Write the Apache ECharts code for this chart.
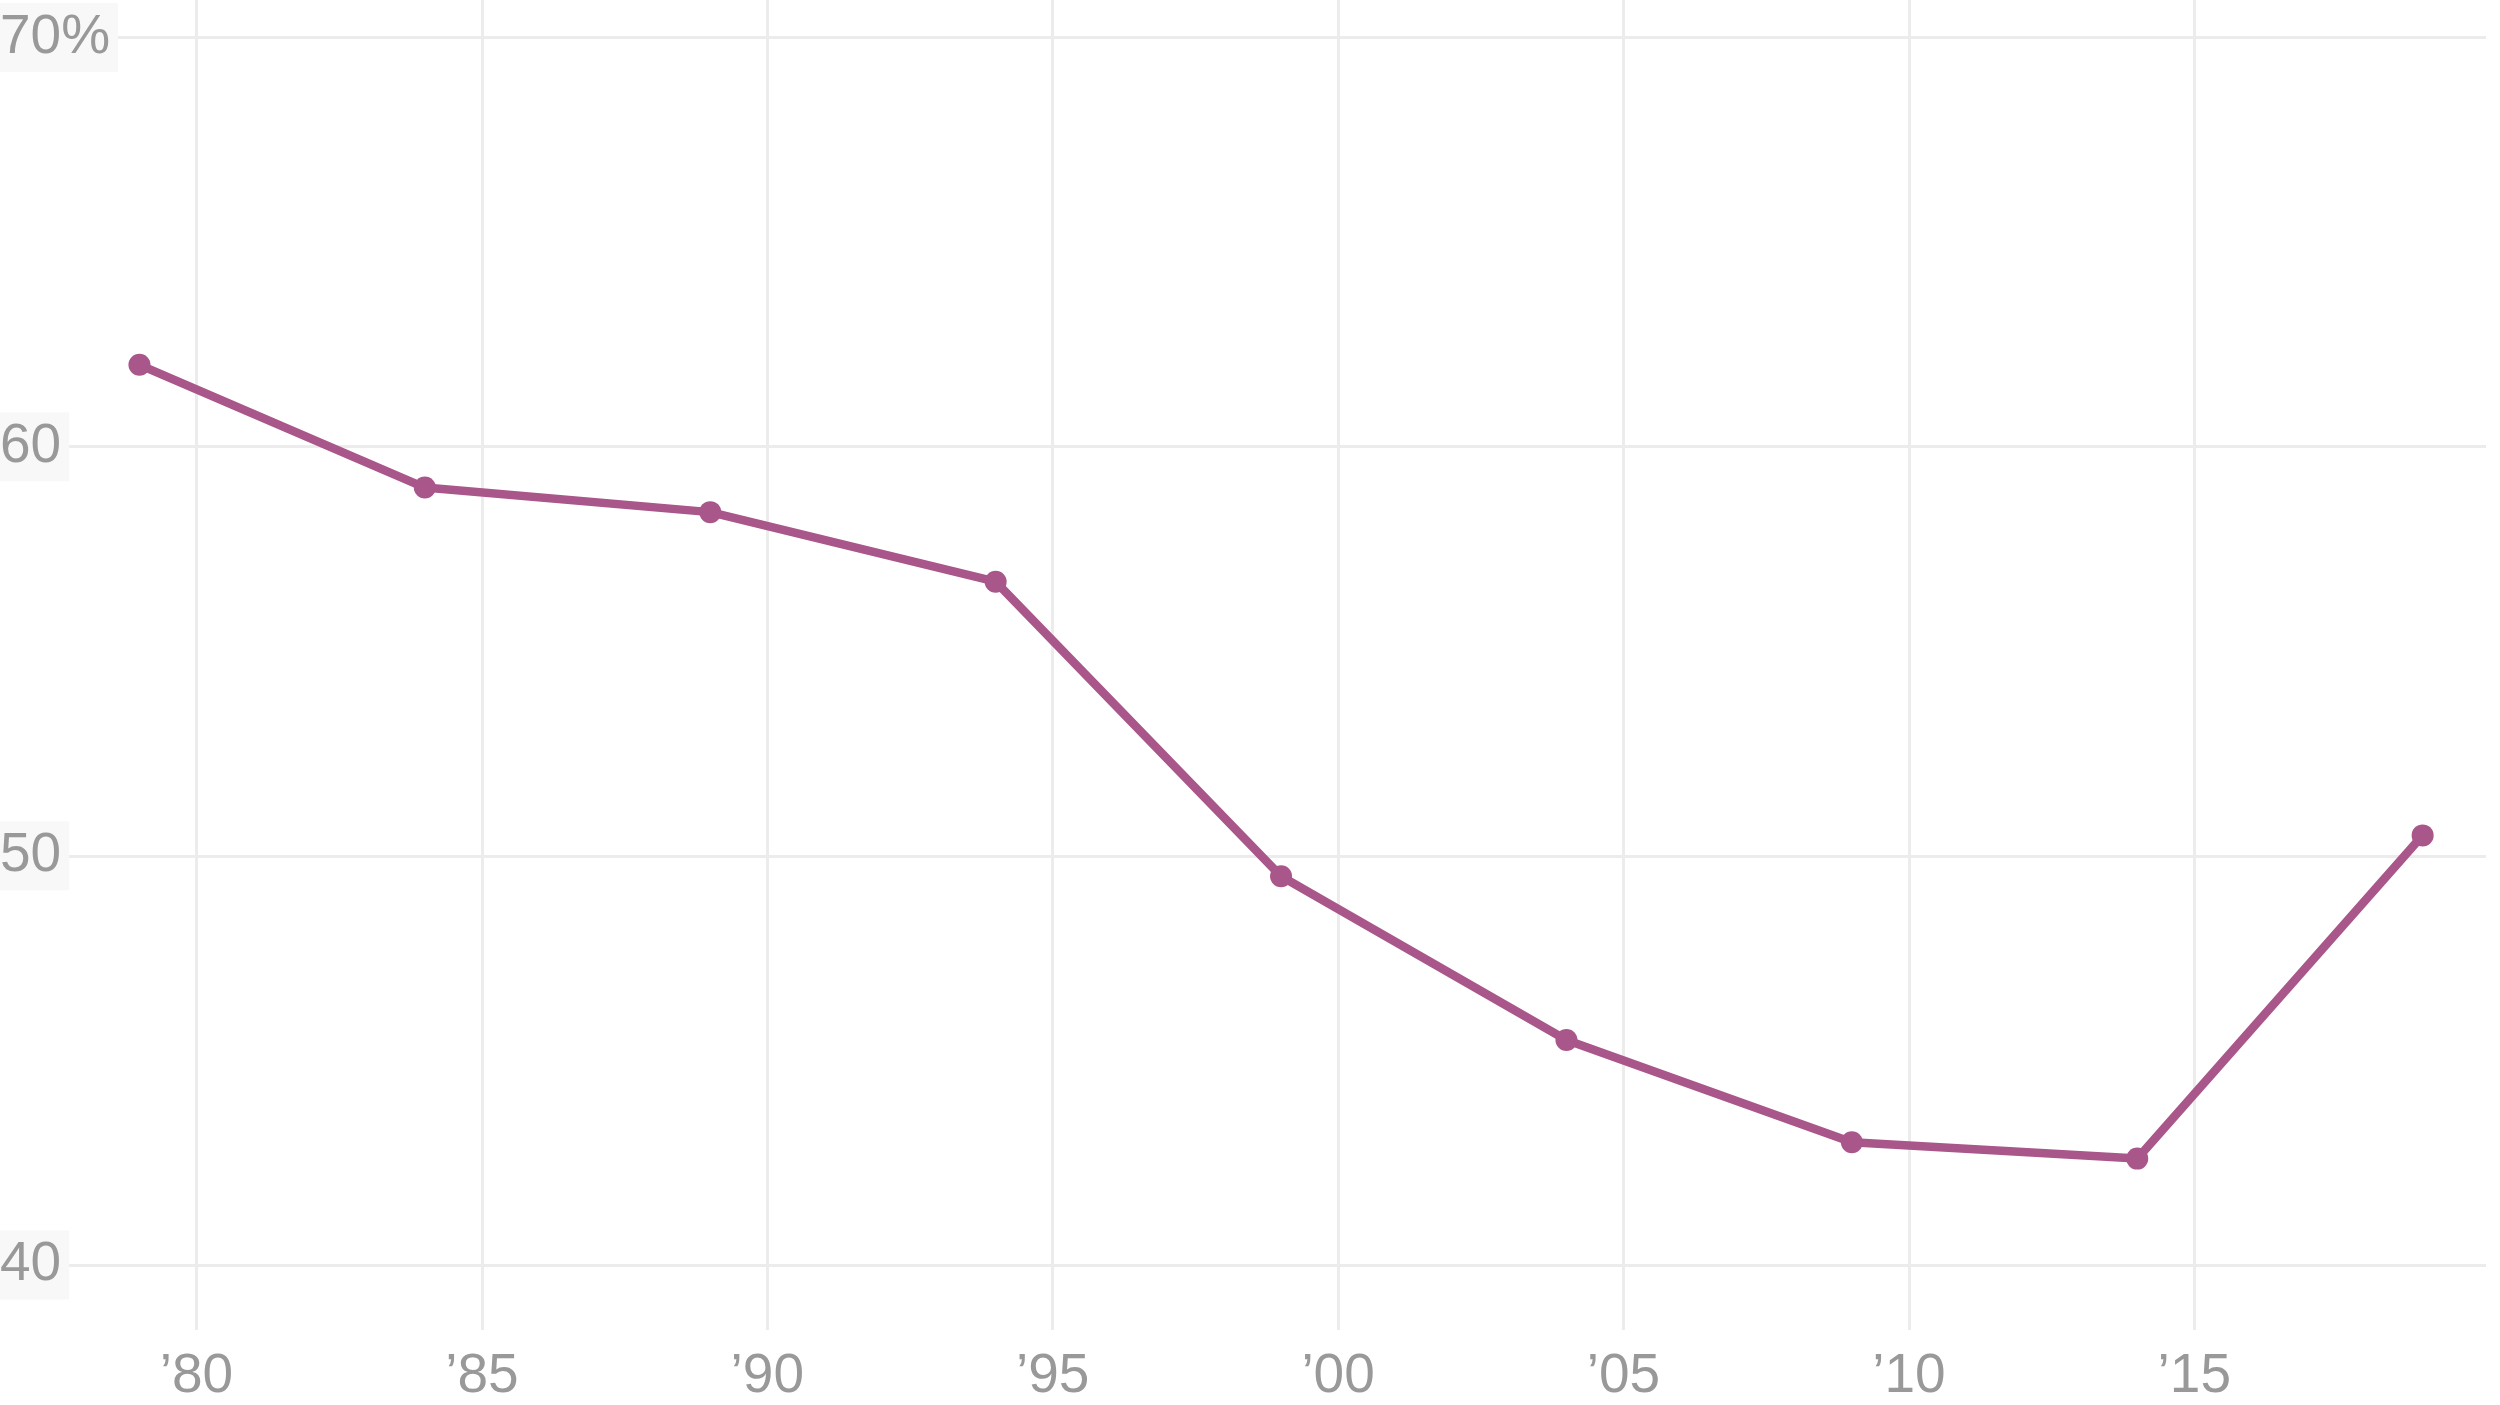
<!DOCTYPE html>
<html>
<head>
<meta charset="utf-8">
<script src="https://cdn.jsdelivr.net/npm/echarts@6/dist/echarts.min.js"></script>
<style>
html,body{margin:0;padding:0;background:#fff;}
#chart{width:2500px;height:1405px;}
</style>
</head>
<body>
<div id="chart"></div>
<script>
const years = [1979, 1984, 1989, 1994, 1999, 2004, 2009, 2014, 2019];
const shares = [62.0, 59.0, 58.4, 56.7, 49.5, 45.5, 43.0, 42.6, 50.5];
const yTicks = [40, 50, 60, 70];
const yTickLabels = ['40', '50', '60', '70%'];
const xTicks = [1980, 1985, 1990, 1995, 2000, 2005, 2010, 2015];
const xTickLabels = ['\u201980', '\u201985', '\u201990', '\u201995', '\u201900', '\u201905', '\u201910', '\u201915'];

const font = 'Liberation Sans, Arial, Helvetica, sans-serif';
const gridColor = '#ececec';
const labelColor = '#999999';
const lineColor = '#a9568a';

const chart = echarts.init(document.getElementById('chart'), null, {renderer: 'canvas'});
chart.setOption({
  animation: false,
  backgroundColor: '#ffffff',
  grid: [
    {left: 0, right: 14, top: 37.5, bottom: 140, containLabel: false, outerBoundsMode: 'none'},
    {left: -88.9, right: 20.3, top: 0, bottom: 75, containLabel: false, outerBoundsMode: 'none'}
  ],
  xAxis: [
    {gridIndex: 0, type: 'value', min: 1976.557, max: 2020.11, show: false},
    {
      gridIndex: 1, type: 'value', min: 1975, max: 2020, interval: 5,
      axisLine: {show: false}, axisTick: {show: false},
      splitLine: {show: true, showMinLine: false, showMaxLine: false, lineStyle: {color: gridColor, width: 3}},
      axisLabel: {
        show: true, showMinLabel: false, showMaxLabel: false, margin: 19,
        fontSize: 55, lineHeight: 55, color: labelColor, fontFamily: font,
        formatter: function (v) {
          const i = xTicks.indexOf(v);
          return i >= 0 ? xTickLabels[i] : '';
        }
      }
    }
  ],
  yAxis: [
    {
      gridIndex: 0, type: 'value', min: 40, max: 70, interval: 10, z: 1,
      axisLine: {show: false}, axisTick: {show: false},
      splitLine: {show: true, lineStyle: {color: gridColor, width: 3}},
      axisLabel: {show: false}
    },
    {
      gridIndex: 0, type: 'value', min: 40, max: 70, interval: 10, position: 'left', offset: 0, z: 5,
      axisLine: {show: false}, axisTick: {show: false}, splitLine: {show: false},
      axisLabel: {
        show: true, inside: true, margin: 0, align: 'left',
        fontSize: 55, lineHeight: 55, color: labelColor, fontFamily: font,
        backgroundColor: '#f8f8f8', padding: [7, 8, 7, 0],
        formatter: function (v) {
          const i = yTicks.indexOf(v);
          return i >= 0 ? yTickLabels[i] : '';
        }
      }
    },
    {gridIndex: 1, type: 'value', min: 0, max: 1, show: false}
  ],
  series: [{
    type: 'line',
    xAxisIndex: 0, yAxisIndex: 0,
    data: years.map((y, i) => [y, shares[i]]),
    symbol: 'circle', symbolSize: 22,
    lineStyle: {color: lineColor, width: 8.5},
    itemStyle: {color: lineColor},
    z: 10
  }]
});
</script>
</body>
</html>
